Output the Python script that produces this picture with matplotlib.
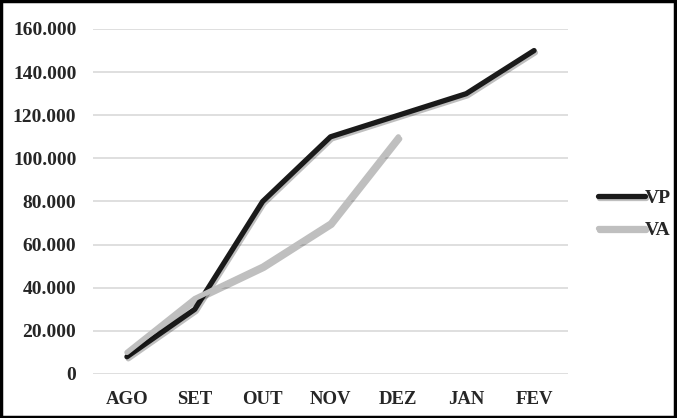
import matplotlib
matplotlib.use("Agg")
import matplotlib.pyplot as plt
import matplotlib.patheffects as pe
from matplotlib.ticker import FuncFormatter

meses = ["AGO", "SET", "OUT", "NOV", "DEZ", "JAN", "FEV"]
vp = [8000, 30000, 80000, 110000, 120000, 130000, 150000]
va = [10000, 35000, 50000, 70000, 110000]
y_ticks = [0, 20000, 40000, 60000, 80000, 100000, 120000, 140000, 160000]

plt.rcParams["font.family"] = ["Liberation Serif", "DejaVu Serif"]
plt.rcParams["font.weight"] = "bold"

fig = plt.figure(figsize=(6.77, 4.18), dpi=100)
ax = fig.add_axes([93 / 677, 1 - 374 / 418, (568 - 93) / 677, (374 - 29) / 418])

shadow = [pe.SimpleLineShadow(offset=(1, -1.5), shadow_color="black", alpha=0.25), pe.Normal()]
x_vp = list(range(len(vp)))
x_va = list(range(len(va)))
ax.plot(x_vp, vp, color="#1a1a1a", lw=3.8, solid_capstyle="round", label="VP",
        path_effects=shadow, zorder=3)
ax.plot(x_va, va, color="#bfbfbf", lw=3.8, solid_capstyle="round", label="VA",
        path_effects=shadow, zorder=4)

ax.set_xlim(-0.5, len(meses) - 0.5)
ax.set_ylim(0, 160000)
ax.set_xticks(range(len(meses)))
ax.set_xticklabels(meses)
ax.set_yticks(y_ticks)
ax.yaxis.set_major_formatter(FuncFormatter(lambda v, p: f"{int(v):,}".replace(",", ".")))
ax.grid(axis="y", color="#d9d9d9", lw=1.2)
ax.set_axisbelow(True)
for s in ax.spines.values():
    s.set_visible(False)
ax.tick_params(axis="both", length=0, colors="#262626")
ax.tick_params(axis="y", pad=12, labelsize=14)
ax.tick_params(axis="x", pad=12, labelsize=13.5)

leg = fig.legend(loc="center left", bbox_to_anchor=(598 / 677, 1 - 214 / 418),
                 frameon=False, borderpad=0, borderaxespad=0, handlelength=2.4,
                 handletextpad=0.0, labelspacing=0.75,
                 prop={"size": 14, "weight": "bold"})
for t in leg.get_texts():
    t.set_color("#262626")
for h in leg.legend_handles:
    h.set_linewidth(3.8)

fig.patches.append(plt.Rectangle((0.002, 0.003), 0.995, 0.994, transform=fig.transFigure,
                                 fill=False, edgecolor="black", lw=2.5))
fig.savefig("out.png", dpi=100)
